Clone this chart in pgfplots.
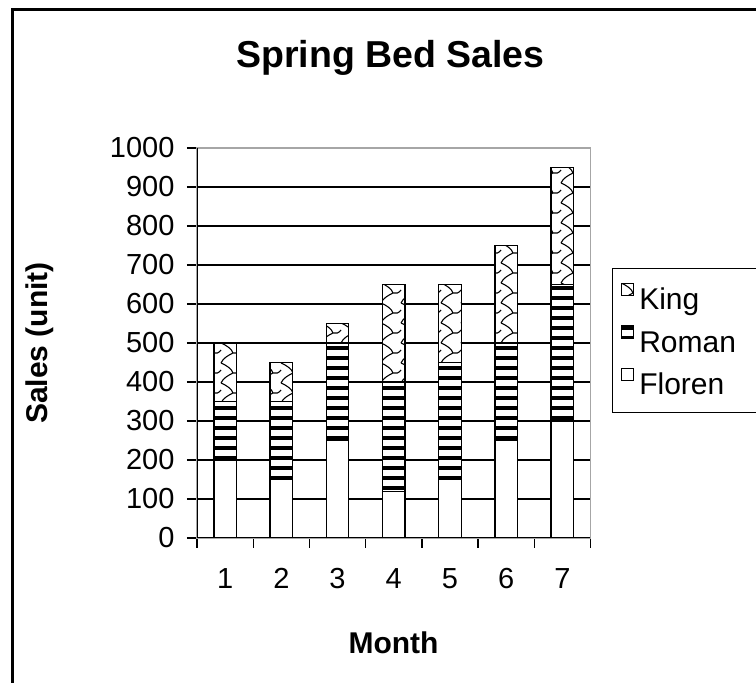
\documentclass[border=0pt]{standalone}
\usepackage{pgfplots}
\pgfplotsset{compat=1.18}
\usepackage{fontspec}
\setmainfont{Liberation Sans}
\usetikzlibrary{patterns}

\pgfdeclarepatternformonly{romanstripes}{\pgfqpoint{-1pt}{0pt}}{\pgfqpoint{11pt}{10pt}}{\pgfqpoint{10pt}{10pt}}{%
  \pgfpathrectangle{\pgfqpoint{-1pt}{3pt}}{\pgfqpoint{12pt}{4pt}}\pgfusepath{fill}}

\pgfdeclarepatternformonly{kingweave}{\pgfqpoint{-2pt}{-2pt}}{\pgfqpoint{22pt}{22pt}}{\pgfqpoint{20pt}{20pt}}{%
  \pgfsetlinewidth{1.1pt}%
  \pgfpathmoveto{\pgfqpoint{1pt}{20pt}}%
  \pgfpathcurveto{\pgfqpoint{6pt}{18pt}}{\pgfqpoint{12pt}{14pt}}{\pgfqpoint{13pt}{10pt}}%
  \pgfpathcurveto{\pgfqpoint{9pt}{8pt}}{\pgfqpoint{3pt}{5pt}}{\pgfqpoint{1pt}{0pt}}%
  \pgfpathmoveto{\pgfqpoint{13pt}{10pt}}%
  \pgfpathcurveto{\pgfqpoint{16pt}{9pt}}{\pgfqpoint{19pt}{10pt}}{\pgfqpoint{21pt}{13pt}}%
  \pgfusepath{stroke}}

\newcommand{\LE}[1]{\makebox[125pt][l]{\rule[-7pt]{0pt}{29pt}#1}}

\begin{document}
\begin{tikzpicture}[x=1pt,y=1pt]
\useasboundingbox (0,0) rectangle (756,683);
\draw[line width=2.5pt] (12.5pt,-10pt) -- (12.5pt,673.5pt) -- (770pt,673.5pt);
\begin{axis}[
  at={(197pt,145pt)}, anchor=south west,
  scale only axis, width=393.5pt, height=390pt,
  ybar stacked, bar width=22.5pt,
  xmin=0.5, xmax=7.5, ymin=0, ymax=1000,
  xtick={1,...,7}, minor xtick={0.5,1.5,...,7.5},
  ytick={0,100,...,1000},
  ymajorgrids, major grid style={black, line width=1.3pt},
  tick align=outside, tick pos=left,
  major tick length=10pt, minor tick length=10pt,
  every tick/.style={black, line width=1.3pt},
  major x tick style={draw=none},
  axis line style={draw=gray!70, line width=1.3pt},
  ticklabel style={font=\fontsize{29}{34}\selectfont},
  /pgf/number format/assume math mode=true,
  /pgf/number format/1000 sep={},
  xticklabel style={yshift=-17pt},
  yticklabel style={xshift=-9pt},
  area legend,
  reverse legend,
  legend image code/.code={\draw[#1, line width=1.6pt] (0pt,4pt) rectangle (12pt,16pt);},
  legend style={at={(1.0547,0.6923)}, anchor=north west, draw=black, line width=1.3pt,
    font=\fontsize{30}{36}\selectfont, inner xsep=8pt, inner ysep=14pt, row sep=12pt,
    nodes={inner sep=2pt}, legend cell align=left,
    /tikz/every odd column/.append style={column sep=3pt}},
]
\addplot[fill=white, draw=black, line width=1.3pt] coordinates {(1,200) (2,150) (3,250) (4,120) (5,150) (6,250) (7,300)};
\addplot[fill=white, draw=black, line width=1.3pt, postaction={pattern=romanstripes}] coordinates {(1,150) (2,200) (3,250) (4,280) (5,300) (6,250) (7,350)};
\addplot[fill=white, draw=black, line width=1.3pt, postaction={pattern=kingweave}] coordinates {(1,150) (2,100) (3,50) (4,250) (5,200) (6,250) (7,300)};
\addlegendentry{\LE{Floren}}
\addlegendentry{\LE{Roman}}
\addlegendentry{\LE{King}}
\draw[black, line width=1.3pt] (rel axis cs:0,1) -- (rel axis cs:0,0) -- (rel axis cs:1,0);
\end{axis}
\node[anchor=base, font=\bfseries\fontsize{37.5}{44}\selectfont] at (390.5pt,615pt) {Spring Bed Sales};
\node[anchor=base, font=\bfseries\fontsize{30}{36}\selectfont] at (393.5pt,29pt) {Month};
\node[rotate=90, anchor=base, font=\bfseries\fontsize{30}{36}\selectfont] at (47pt,340pt) {Sales (unit)};
\end{tikzpicture}
\end{document}
